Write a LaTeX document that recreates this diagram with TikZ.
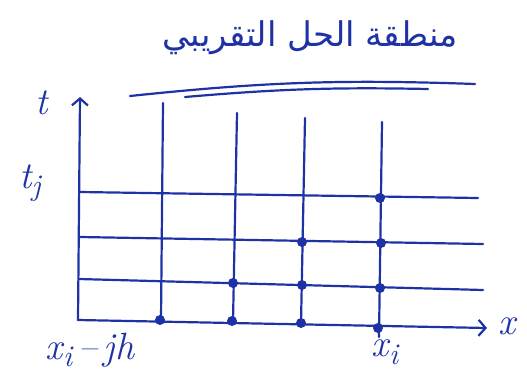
\documentclass[tikz,border=0pt]{standalone}
\usepackage{fontspec}
\usetikzlibrary{arrows.meta}
\newfontfamily\arabicfont[Script=Arabic]{DejaVu Sans}
\TeXXeTstate=1
\newcommand{\lowsub}[1]{\raisebox{-0.2em}{\fontsize{30}{32}\selectfont #1}}
\begin{document}
\begin{tikzpicture}[x=1pt,y=-1pt,
  ink/.style={draw=inkblue,line width=2.2pt,line cap=round},
  gdot/.style={circle,fill=inkblue,inner sep=0pt,minimum size=10pt},
  lbl/.style={text=inkblue,font=\fontsize{38}{42}\selectfont\itshape}]
\definecolor{inkblue}{RGB}{30,50,165}
\useasboundingbox (0,0) rectangle (527,391);
% axes
\coordinate (O) at (78,320);
\coordinate (Ttop) at (80,97);
\coordinate (Xend) at (487,328);
\draw[ink,-{Straight Barb[length=7pt,width=16pt]}] (O) -- (Ttop);
\draw[ink,-{Straight Barb[length=7pt,width=16pt]}] (O) -- (Xend);
% horizontal lines
\coordinate (h1a) at (80,192); \coordinate (h1b) at (478,198);
\coordinate (h2a) at (80,237); \coordinate (h2b) at (483,244);
\coordinate (h3a) at (79,279); \coordinate (h3b) at (483,290);
\draw[ink] (h1a) -- (h1b);
\draw[ink] (h2a) -- (h2b);
\draw[ink] (h3a) -- (h3b);
% vertical lines
\coordinate (v1a) at (163,103); \coordinate (v1b) at (161,320);
\coordinate (v2a) at (237,113); \coordinate (v2b) at (233,322);
\coordinate (v3a) at (305,118); \coordinate (v3b) at (301,324);
\coordinate (v4a) at (382,122); \coordinate (v4b) at (379,337);
\draw[ink] (v1a) -- (v1b);
\draw[ink] (v2a) -- (v2b);
\draw[ink] (v3a) -- (v3b);
\draw[ink] (v4a) -- (v4b);
% dots
\node[gdot] (d1) at (160,320) {};
\node[gdot] (d2) at (232,321) {};
\node[gdot] (d3) at (301,323) {};
\node[gdot] (d4) at (378,328) {};
\node[gdot] (d5) at (233,283) {};
\node[gdot] (d6) at (302,285) {};
\node[gdot] (d7) at (380,288) {};
\node[gdot] (d8) at (302,242) {};
\node[gdot] (d9) at (381,243) {};
\node[gdot] (d10) at (380,198) {};
% labels
\node[lbl] (lt) at (42,103) {t};
\node[lbl] (ltj) at (30,183) {t\lowsub{j}};
\node[lbl] (lx) at (507,326) {x};
\node[lbl] (lxj) at (90,350) {x\lowsub{i}\,–\,jh};
\node[lbl] (lxi) at (385,352) {x\lowsub{i}};
% title
\node[text=inkblue,font=\arabicfont\fontsize{34}{40}\selectfont] (title) at (310,38) {\beginR منطقة الحل التقريبي\endR};
\coordinate (u1a) at (130,96); \coordinate (u1b) at (475,84);
\coordinate (u2a) at (185,97); \coordinate (u2b) at (428,89);
\draw[ink] (u1a) to[bend left=4] (u1b);
\draw[ink] (u2a) to[bend left=3] (u2b);
\end{tikzpicture}
\end{document}
